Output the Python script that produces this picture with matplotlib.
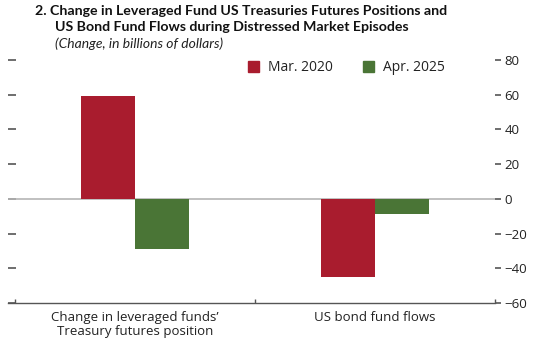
import numpy as np
import matplotlib
matplotlib.use("Agg")
import matplotlib.pyplot as plt
from matplotlib.patches import Patch

plt.rcParams['font.family'] = ['Open Sans', 'DejaVu Sans']

categories = ["Change in leveraged funds\u2019\nTreasury futures position", "US bond fund flows"]
series_names = ["Mar. 2020", "Apr. 2025"]
mar_2020 = [59, -45]
apr_2025 = [-29, -9]
colors = ["#A91C2E", "#4A7536"]
yticks = [-60, -40, -20, 0, 20, 40, 60, 80]

fig = plt.figure(figsize=(5.48, 3.52), dpi=100)
ax = fig.add_axes([8 / 548, 49 / 352, 487 / 548, 243 / 352])

x = np.arange(len(categories))
w = 0.225
ax.bar(x - w / 2, mar_2020, w, color=colors[0], zorder=3)
ax.bar(x + w / 2, apr_2025, w, color=colors[1], zorder=3)

ax.axhline(0, color="#b5b5b5", lw=1.2, zorder=2)
ax.set_xlim(-0.53, 1.5)
ax.set_ylim(-60, 80)

for s in ["top", "right", "left"]:
    ax.spines[s].set_visible(False)
ax.spines["bottom"].set_color("#555555")
ax.spines["bottom"].set_linewidth(1.0)

# right side labels, left side bare ticks
ax.set_yticks(yticks)
ax.set_yticklabels([f"\u2212{-v}" if v < 0 else str(v) for v in yticks])
ax.tick_params(axis="y", which="major", left=True, right=True, labelleft=False,
               labelright=True, direction="in", length=6, width=1.2, color="#555555",
               labelsize=9.5, pad=7, labelcolor="#222222")
# right ticks drawn outward
for t in ax.yaxis.get_major_ticks():
    t.tick2line.set_marker(matplotlib.lines.TICKRIGHT)
    t.tick2line.set_markersize(4)
    t.tick1line.set_marker(matplotlib.lines.TICKRIGHT)

# category separators on x axis
ax.set_xticks([-0.5, 0.5, 1.5], minor=True)
ax.set_xticks(x)
ax.set_xticklabels(categories)
ax.tick_params(axis="x", which="major", length=0, labelsize=9.5, pad=6, labelcolor="#222222")
ax.tick_params(axis="x", which="minor", direction="in", length=3, width=1, color="#555555")
for lab in ax.get_xticklabels():
    lab.set_linespacing(1.1)

handles = [Patch(color=c, label=n) for c, n in zip(colors, series_names)]
ax.legend(handles=handles, loc="upper center", bbox_to_anchor=(0.695, 1.05), ncol=2,
          frameon=False, fontsize=10, handlelength=0.8, handleheight=0.8,
          columnspacing=2.2, handletextpad=0.6, labelcolor="#222222")

fig.text(35 / 548, 1 - 5 / 352,
         "2. Change in Leveraged Fund US Treasuries Futures Positions and",
         family=["Lato", "DejaVu Sans"], fontsize=10.2, fontweight="bold",
         va="top", color="#111111")
fig.text(55 / 548, 1 - 21 / 352,
         "US Bond Fund Flows during Distressed Market Episodes",
         family=["Lato", "DejaVu Sans"], fontsize=10.2, fontweight="bold",
         va="top", color="#111111")
fig.text(55 / 548, 1 - 37 / 352, "(Change, in billions of dollars)",
         family=["Lato", "DejaVu Sans"], fontsize=10, style="italic",
         va="top", color="#222222")

fig.savefig("out.png", dpi=100)
